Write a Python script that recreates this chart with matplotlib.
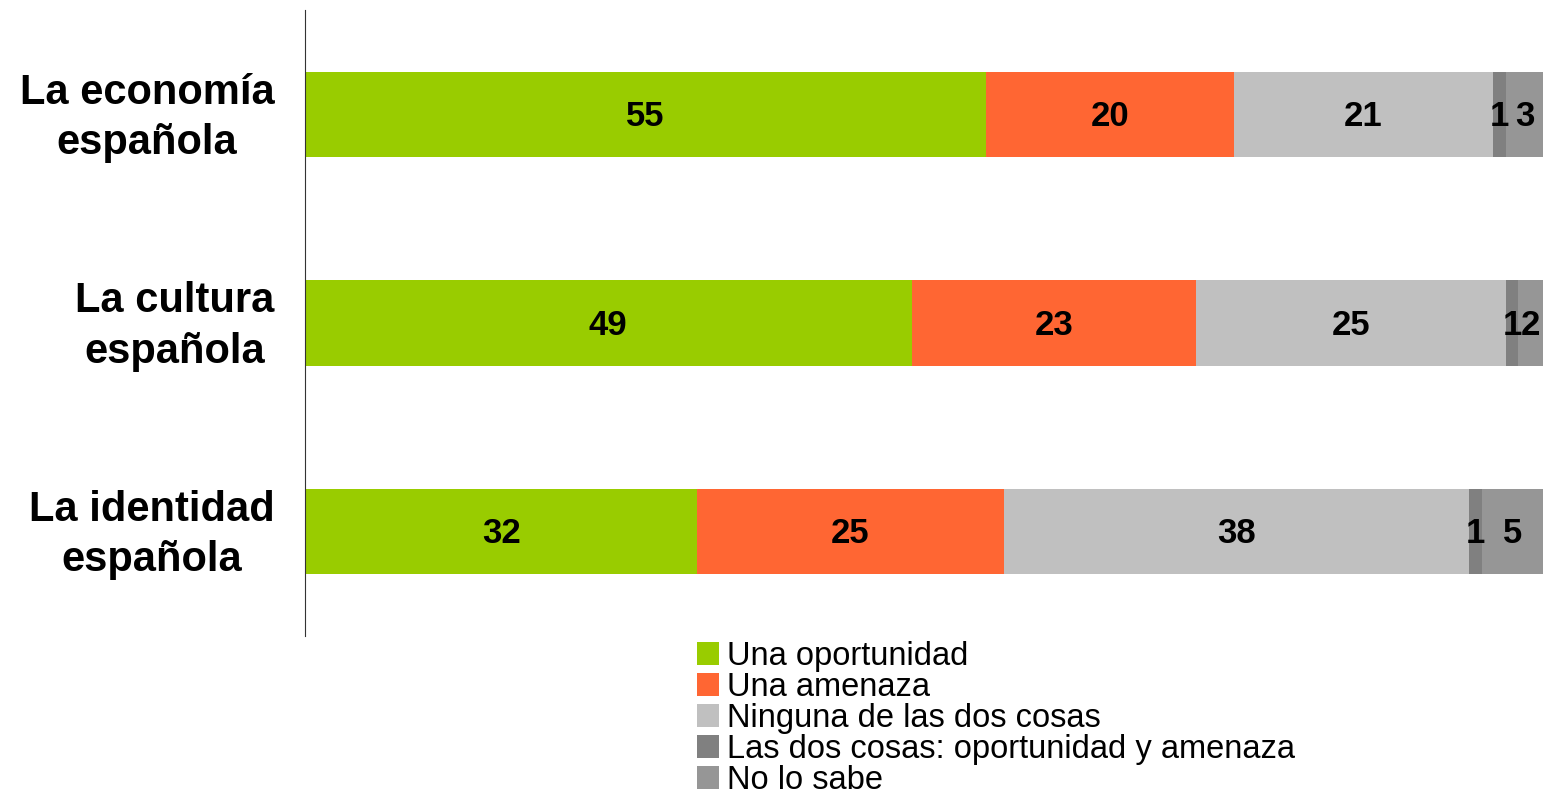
import matplotlib.pyplot as plt
import matplotlib.transforms as mtransforms
import numpy as np

plt.rcParams['font.family'] = ['Liberation Sans', 'DejaVu Sans']

# Data
categories = ["La economía\nespañola", "La cultura\nespañola", "La identidad\nespañola"]
series_names = ["Una oportunidad", "Una amenaza", "Ninguna de las dos cosas",
                "Las dos cosas: oportunidad y amenaza", "No lo sabe"]
oportunidad = [55, 49, 32]
amenaza = [20, 23, 25]
ninguna = [21, 25, 38]
las_dos = [1, 1, 1]
no_sabe = [3, 2, 5]
colors = ["#99CC00", "#FF6633", "#C0C0C0", "#808080", "#969696"]

values = np.array([oportunidad, amenaza, ninguna, las_dos, no_sabe], dtype=float)
totals = values.sum(axis=0)
shares = values / totals * 100  # 100% stacked

fig = plt.figure(figsize=(15.47, 7.98), dpi=100)
ax = fig.add_axes([305 / 1547, 1 - 636 / 798, 1238 / 1547, 626 / 798])

y = np.arange(len(categories))
left = np.zeros(len(categories))
for i, name in enumerate(series_names):
    bars = ax.barh(y, shares[i], left=left, height=0.41, color=colors[i], label=name)
    for j, b in enumerate(bars):
        ax.text(left[j] + shares[i][j] / 2, y[j] + 0.01, "%d" % values[i][j],
                ha="center", va="center", fontsize=25, fontweight="bold", color="black")
    left += shares[i]

ax.set_xlim(0, 100)
ax.set_ylim(2.5, -0.5)
ax.set_yticks(y)
ax.set_yticklabels(categories, fontsize=30, fontweight="bold", linespacing=1.33,
                   ha="right", multialignment="center")
ax.tick_params(axis="y", length=0, pad=22)
# nudge the category labels up a little
shift = mtransforms.ScaledTranslation(0, 6 / 100, fig.dpi_scale_trans)
for lbl in ax.get_yticklabels():
    lbl.set_transform(lbl.get_transform() + shift)
ax.set_xticks([])
for s in ["top", "right", "bottom"]:
    ax.spines[s].set_visible(False)
ax.spines["left"].set_color("#333333")

fig.legend(loc="upper left", bbox_to_anchor=(0.4505, 0.197), frameon=False, fontsize=23.5,
           handlelength=0.68, handleheight=0.68, handletextpad=0.25, labelspacing=0.0,
           borderpad=0, borderaxespad=0)

fig.savefig("out.png", dpi=100)
